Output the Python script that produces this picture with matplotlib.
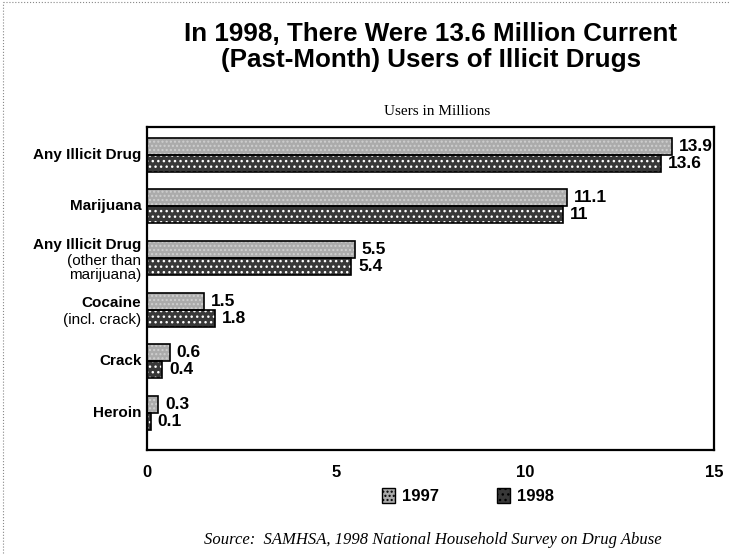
import matplotlib
matplotlib.use("Agg")
import matplotlib.pyplot as plt
from matplotlib.patches import Patch
from matplotlib.lines import Line2D

categories = ["Any Illicit Drug", "Marijuana", "Any Illicit Drug", "Cocaine", "Crack", "Heroin"]
subtitles = ["", "", "(other than\nmarijuana)", "(incl. crack)", "", ""]
users_1997 = [13.9, 11.1, 5.5, 1.5, 0.6, 0.3]
users_1998 = [13.6, 11, 5.4, 1.8, 0.4, 0.1]
series_labels = ["1997", "1998"]
x_ticks = [0, 5, 10, 15]

sans = ["Liberation Sans", "DejaVu Sans"]
serif = ["Liberation Serif", "DejaVu Serif"]

fig = plt.figure(figsize=(7.33, 5.55), dpi=100)
ax = fig.add_axes([147/733, 1-450/555, (714-147)/733, (450-127)/555])

n = len(categories)
ypos = list(range(n))
h = 0.33
y97 = [y - h/2 for y in ypos]
y98 = [y + h/2 for y in ypos]

c97 = "#ababab"
c98 = "#383838"
ax.barh(y97, users_1997, height=h, color=c97, hatch="....", edgecolor="#cfcfcf", linewidth=0, zorder=2)
ax.barh(y98, users_1998, height=h, color=c98, hatch="...", edgecolor="white", linewidth=0, zorder=2)
ax.barh(y97, users_1997, height=h, fill=False, edgecolor="black", linewidth=1.2, zorder=3)
ax.barh(y98, users_1998, height=h, fill=False, edgecolor="black", linewidth=1.2, zorder=3)

def fmt(v):
    return f"{v:g}"

for y, v in zip(y97, users_1997):
    ax.annotate(fmt(v), (v, y), xytext=(5, 0), textcoords="offset points",
                va="center", ha="left", fontsize=12.5, fontweight="bold", family=sans)
for y, v in zip(y98, users_1998):
    ax.annotate(fmt(v), (v, y), xytext=(5, 0), textcoords="offset points",
                va="center", ha="left", fontsize=12.5, fontweight="bold", family=sans)

ax.set_xlim(0, 15)
ax.set_ylim(5.72, -0.54)
ax.set_xticks(x_ticks)
ax.set_xticklabels([str(t) for t in x_ticks], fontsize=12, fontweight="bold", family=sans)
ax.tick_params(axis="x", length=0, pad=11)
ax.set_yticks([])
for s in ax.spines.values():
    s.set_linewidth(1.6)

# category labels
for y, name, sub in zip(ypos, categories, subtitles):
    if sub:
        nlines = sub.count("\n") + 1
        top = y - 0.13 * nlines
        ax.annotate(name, (0, top), xytext=(-4, 0), textcoords="offset points",
                    ha="right", va="center", fontsize=11, fontweight="bold", family=sans,
                    annotation_clip=False)
        ax.annotate(sub, (0, top), xytext=(-4, -7), textcoords="offset points",
                    ha="right", va="top", fontsize=11, family=sans, linespacing=0.95,
                    annotation_clip=False)
    else:
        ax.annotate(name, (0, y), xytext=(-4, 0), textcoords="offset points",
                    ha="right", va="center", fontsize=11, fontweight="bold", family=sans,
                    annotation_clip=False)

fig.text(431/733, 1-47/555, "In 1998, There Were 13.6 Million Current\n(Past-Month) Users of Illicit Drugs",
         ha="center", va="center", fontsize=18.7, fontweight="bold", family=sans,
         linespacing=1.1)
fig.text(437/733, 1-112/555, "Users in Millions", ha="center", va="center", fontsize=11, family=serif)

handles = [Patch(facecolor=c97, edgecolor="black", hatch="...."),
           Patch(facecolor=c98, edgecolor="black", hatch="...")]
leg = fig.legend(handles, series_labels, loc="center", bbox_to_anchor=(468/733, 1-496/555), ncol=2,
                 frameon=False, prop={"family": sans, "weight": "bold", "size": 12},
                 handlelength=0.8, handleheight=1.0, columnspacing=3.5, handletextpad=0.4)

fig.text(433/733, 1-540/555, "Source:  SAMHSA, 1998 National Household Survey on Drug Abuse",
         ha="center", va="center", fontsize=12, style="italic", family=serif)

# faint scanned border (top and left)
fig.add_artist(Line2D([0.004, 0.996], [0.996, 0.996], transform=fig.transFigure,
                      color="#888888", lw=0.8, ls=":"))
fig.add_artist(Line2D([0.004, 0.004], [0.004, 0.996], transform=fig.transFigure,
                      color="#888888", lw=0.8, ls=":"))

fig.savefig("out.png", dpi=100)
